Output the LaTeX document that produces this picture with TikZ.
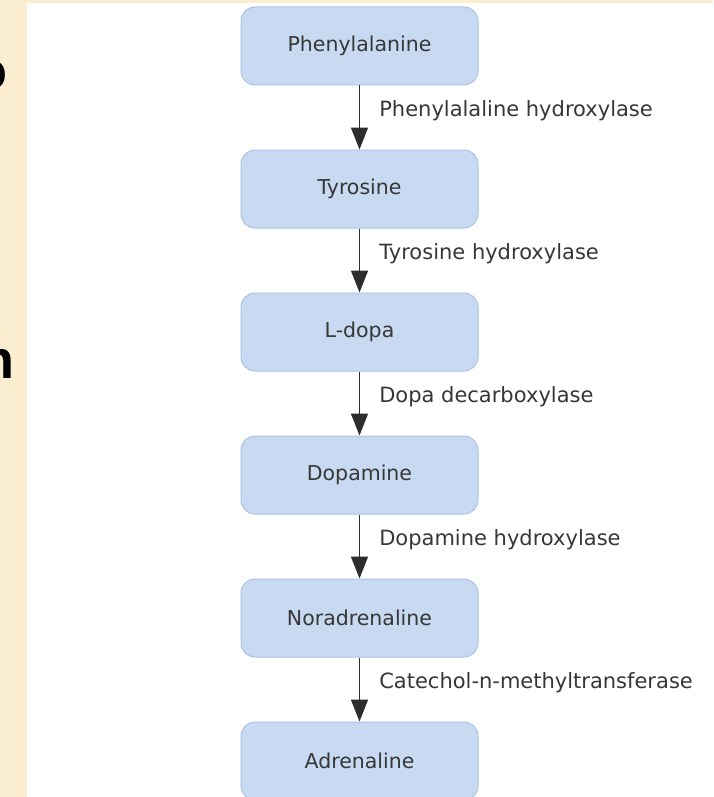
\documentclass[tikz,border=0pt]{standalone}
\usepackage{fontspec}
\setmainfont{DejaVu Sans}
\newfontfamily\slidefont{Liberation Sans}
\usetikzlibrary{
	positioning,
	arrows.meta
}
\definecolor{parchment}{RGB}{251,237,208}
\definecolor{boxfill}{RGB}{199,218,241}
\definecolor{boxline}{RGB}{172,196,228}
\definecolor{inkgray}{RGB}{55,55,55}
\definecolor{arrowgray}{RGB}{45,45,45}
\tikzset{
	metabolite/.style={
		draw=boxline,
		line width=1pt,
		fill=boxfill,
		rounded corners=14pt,
		minimum width=237pt,
		minimum height=78pt,
		inner sep=0pt,
		text=inkgray,
		font=\fontsize{20.5}{24}\selectfont
	},
	enzyme/.style={
		anchor=west,
		xshift=19pt,
		inner sep=0pt,
		text=inkgray,
		font=\fontsize{21}{24}\selectfont
	},
	reaction/.style={
		draw=arrowgray,
		line width=1.6pt,
		-{Triangle[width=17pt,length=22pt]}
	},
	fragment/.style={
		anchor=base east,
		inner sep=0pt,
		text=black,
		font=\slidefont\bfseries\fontsize{54}{60}\selectfont
	}
}

\begin{document}
\begin{tikzpicture}[ %%%%%%%% CATECHOLAMINE PATHWAY
		x=1pt,
		y=-1pt,
		node distance=64pt
		]
		\useasboundingbox (0,0) rectangle (713,797);
		% slide background and white panel
		\fill[parchment] (0,0) rectangle (713,797);
		\fill[white] (27,3) rectangle (713,797);
		\begin{scope}
			\clip (0,0) rectangle (27,797);
			\node[fragment] (slideo) at (8,90) {o};
			\node[fragment] (sliden) at (15,378) {n};
		\end{scope}
		% metabolites
		\node[metabolite] (phe) at (359.5,46) {Phenylalanine};
		\node[metabolite, below=of phe] (tyr) {Tyrosine};
		\node[metabolite, below=of tyr] (ldopa) {L-dopa};
		\node[metabolite, below=of ldopa] (dopa) {Dopamine};
		\node[metabolite, below=of dopa] (norad) {Noradrenaline};
		\node[metabolite, below=of norad] (adren) {Adrenaline};
		% enzymes
		\foreach \from/\to/\enz in {
			phe/tyr/Phenylalaline hydroxylase,
			tyr/ldopa/Tyrosine hydroxylase,
			ldopa/dopa/Dopa decarboxylase,
			dopa/norad/Dopamine hydroxylase,
			norad/adren/Catechol-n-methyltransferase} {
			\draw[reaction] (\from) -- node[enzyme, pos=0.4] {\enz} (\to);
		}
	\end{tikzpicture}
\end{document}
